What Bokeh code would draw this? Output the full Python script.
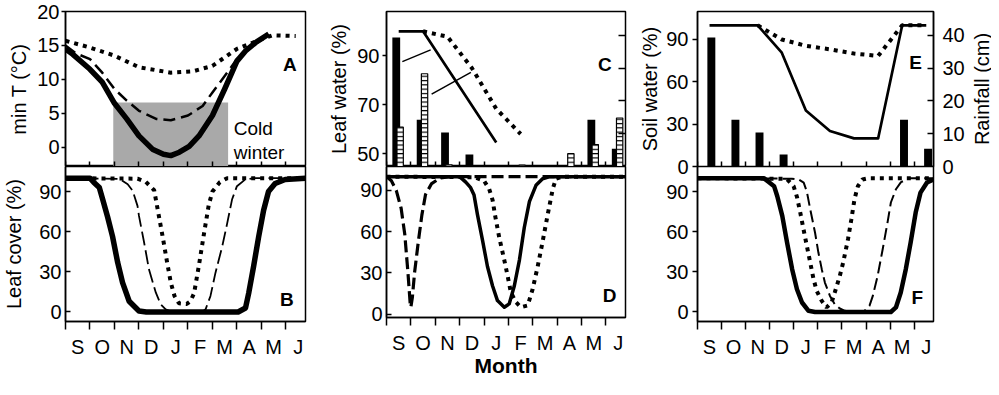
import math
from bokeh.plotting import figure
from bokeh.models import Range1d, LinearAxis, FixedTicker, Label
from bokeh.layouts import row, column
from bokeh.embed import file_html
from bokeh.resources import INLINE

# ---------------- data (x = months since 1 September) ----------------
month_labels = ["S", "O", "N", "D", "J", "F", "M", "A", "M", "J"]
month_index = list(range(10))

# Panel A: minimum temperature (°C)
a_solid_x = [0, 0.3, 1.0, 1.5, 2.0, 2.5, 3.0, 3.55, 4.0, 4.3, 4.65, 5.05, 5.45, 6.0, 6.5, 7.0, 7.35, 7.75, 8.3]
a_solid_y = [14.5, 13.7, 11.5, 9.6, 6.5, 4.2, 1.7, -0.25, -1.0, -1.2, -0.7, 0.15, 1.7, 4.7, 8.6, 12.7, 14.2, 15.4, 16.7]
a_dash_x = [0, 0.45, 1.0, 1.5, 2.0, 2.5, 3.0, 3.7, 4.3, 5.0, 5.6, 6.0, 6.5, 7.0, 7.5, 8.0, 8.3]
a_dash_y = [15.0, 13.8, 13.0, 11.0, 8.6, 6.9, 5.4, 4.2, 4.0, 4.7, 6.1, 8.1, 10.5, 13.0, 14.5, 15.9, 16.7]
a_dot_x = [0, 1.0, 2.0, 3.0, 4.3, 5.2, 6.0, 7.0, 8.0, 8.45, 9.4]
a_dot_y = [15.7, 14.7, 13.5, 11.8, 11.0, 11.2, 12.0, 14.5, 15.9, 16.5, 16.4]
cold_start, cold_end, cold_top = 1.95, 6.64, 6.6

# Panel B: leaf cover (%)
b_solid_x = [0, 1.0, 1.15, 1.38, 1.52, 1.72, 1.92, 2.13, 2.33, 2.6, 3.0, 3.3, 7.05, 7.35, 7.48, 7.68, 7.89, 8.09, 8.29, 8.56, 8.97, 9.8]
b_solid_y = [100, 100, 97, 93, 84, 71, 56.5, 37, 22, 8, 0.7, 0, 0, 3, 14, 34, 56.5, 76, 90, 96, 99, 100]
b_dash_x = [0, 2.2, 2.54, 2.74, 2.94, 3.0, 3.21, 3.41, 3.69, 3.89, 4.09, 4.36, 5.58, 5.72, 5.92, 6.12, 6.4, 6.6, 6.8, 7.0, 7.34, 7.7, 9.8]
b_dash_y = [100, 99.5, 95.4, 90.7, 79.3, 71.8, 51.9, 31.7, 14.4, 5.7, 2, 0, 0, 2, 12, 29, 49, 66, 84, 94, 99, 100, 100]
b_dot_x = [0, 2.94, 3.28, 3.62, 3.8, 3.98, 4.15, 4.3, 4.45, 4.63, 4.95, 5.1, 5.25, 5.45, 5.65, 5.85, 6.0, 6.3, 6.6, 9.8]
b_dot_y = [100, 99.6, 97.2, 91, 73, 55, 37, 22, 12, 6.5, 6, 8, 14, 35, 58, 80, 90, 97, 100, 100]

# Panel C: leaf water (%) and rainfall (cm)
c_solid_x = [0.5, 1.5, 4.5]
c_solid_y = [100, 100, 54.5]
c_dot_x = [1.5, 2.5, 3.5, 4.5, 5.5]
c_dot_y = [100, 97.8, 85, 68.3, 58]
rain_site1 = [39.4, 14.3, 10.4, 3.7, 0, 0, 0, 0, 14.3, 5.4]
rain_site2 = [12.0, 28.3, 0.5, 0, 0, 0.4, 0, 3.9, 6.7, 14.8]
leader_x0 = [0.65, 1.85]
leader_y0 = [87.6, 74.3]
leader_x1 = [1.81, 3.46]
leader_y1 = [92.4, 83.2]

# Panel D: leaf cover (%)
d_dash_x = [0, 0.2, 0.4, 0.6, 0.75, 0.88, 0.97, 1.0, 1.06, 1.15, 1.3, 1.45, 1.6, 1.85, 2.2, 2.6, 9.8]
d_dash_y = [100, 97, 90, 77, 58, 30, 8, 5, 12, 30, 52, 72, 87, 95, 99, 100, 100]
d_solid_x = [0, 3.0, 3.25, 3.45, 3.59, 3.73, 3.94, 4.14, 4.35, 4.55, 4.83, 5.03, 5.24, 5.45, 5.65, 5.86, 6.13, 6.4, 6.7, 9.8]
d_solid_y = [100, 100, 96, 92, 86.6, 72.4, 53.5, 34.6, 20.4, 9.8, 5, 7.4, 20.4, 39.3, 63, 81.8, 93.7, 98.5, 100, 100]
d_dot_x = [0, 3.6, 4.0, 4.21, 4.35, 4.45, 4.62, 4.83, 4.97, 5.1, 5.31, 5.51, 5.79, 5.99, 6.2, 6.41, 6.61, 6.82, 6.95, 7.2, 9.8]
d_dot_y = [100, 99.6, 97, 91, 83, 72, 56, 39.3, 27.5, 15.7, 8.6, 5, 6.3, 18, 34.6, 53.5, 72.4, 91.3, 98.5, 100, 100]

# Panel E: soil water (%)
e_solid_x = [0.5, 1.5, 2.5, 3.5, 4.5, 5.5, 6.5, 7.5, 8.5, 9.5]
e_solid_y = [100, 100, 100, 80.6, 39.7, 25.1, 19.9, 19.9, 100, 100]
e_dot_x = [2.5, 3.5, 4.5, 5.5, 6.5, 7.5, 8.5, 9.5]
e_dot_y = [100, 90, 85.5, 83, 80, 78.3, 100, 100]

# Panel F: leaf cover (%)
f_solid_x = [0, 2.75, 2.97, 3.18, 3.31, 3.52, 3.72, 3.93, 4.13, 4.34, 4.61, 4.88, 8.03, 8.24, 8.44, 8.65, 8.85, 9.06, 9.26, 9.53, 9.8]
f_solid_y = [100, 100, 97, 94, 86.7, 71.8, 51.9, 32, 17, 7.1, 0.9, 0, 0, 3.4, 14.6, 32, 51.9, 74.3, 89.2, 96.7, 99]
f_dot_x = [0, 3.7, 3.99, 4.13, 4.27, 4.4, 4.54, 4.68, 4.82, 4.95, 5.16, 5.36, 5.57, 5.7, 5.91, 6.05, 6.25, 6.39, 6.52, 6.66, 6.85, 7.1, 9.8]
f_dot_y = [100, 99.5, 94, 86, 74, 62, 49.4, 37, 24.5, 15.8, 8.3, 3.4, 7.1, 14.6, 27, 37, 54.4, 69.3, 84.3, 94, 99, 100, 100]
f_dash_x = [0, 3.92, 4.2, 4.41, 4.54, 4.68, 4.88, 5.02, 5.16, 5.29, 5.5, 5.7, 5.91, 6.12, 6.39, 6.94, 7.14, 7.28, 7.48, 7.69, 7.89, 8.03, 8.24, 8.45, 8.8, 9.8]
f_dash_y = [100, 99.6, 99, 96.7, 90, 76.8, 59.4, 44.4, 32, 22, 12, 5.8, 2.6, 0.9, 0, 0.9, 4.6, 12, 27, 46.9, 66.8, 81.8, 91.7, 97, 100, 100]

# ---------------- styling helpers ----------------
FONT = "Liberation Sans"
TICK_FS = "20px"
LABEL_FS = "20px"
X_END = 9.8
TOP_H, BOT_H = 166, 213
OVER = 12  # extra canvas below the soil-water panel so its "0" labels are not cut


def base_fig(w, h, bl, br, bt, bb, y0, y1):
    p = figure(width=w, height=h, x_range=Range1d(0, X_END), y_range=Range1d(y0, y1),
               x_axis_location=None, y_axis_location=None,
               output_backend="svg", toolbar_location=None,
               min_border_left=bl, min_border_right=br,
               min_border_top=bt, min_border_bottom=bb)
    p.grid.visible = False
    p.outline_line_color = "black"
    p.outline_line_width = 1.5
    p.outline_line_alpha = 1.0
    return p


def left_axis(p, ticks, label, tin, tout, standoff, lab_standoff):
    ax = LinearAxis(ticker=FixedTicker(ticks=ticks), axis_label=label,
                    major_tick_in=tin, major_tick_out=tout,
                    major_tick_line_width=1.5, axis_line_width=1.5,
                    minor_tick_line_color=None,
                    major_label_standoff=standoff, axis_label_standoff=lab_standoff,
                    major_label_text_font=FONT, major_label_text_font_size=TICK_FS,
                    major_label_text_color="black",
                    axis_label_text_font=FONT, axis_label_text_font_size=LABEL_FS,
                    axis_label_text_font_style="normal", axis_label_text_color="black")
    p.add_layout(ax, "left")


def inner_bottom(p, y0):
    ax = LinearAxis(fixed_location=y0, ticker=FixedTicker(ticks=month_index),
                    major_tick_in=5, major_tick_out=0, major_tick_line_width=1.5,
                    minor_tick_line_color=None, axis_line_color=None,
                    major_label_text_color=None)
    p.add_layout(ax, "below")


def month_axis(p, label=None):
    mids = [m + 0.5 for m in month_index]
    ax = LinearAxis(ticker=FixedTicker(ticks=mids, minor_ticks=month_index),
                    major_label_overrides={t: s for t, s in zip(mids, month_labels)},
                    major_tick_line_color=None, major_tick_out=8, major_tick_in=0,
                    minor_tick_line_color="black", minor_tick_line_width=1.5,
                    minor_tick_out=8, minor_tick_in=0,
                    axis_line_width=1.5, major_label_standoff=6,
                    major_label_text_font=FONT, major_label_text_font_size=TICK_FS,
                    major_label_text_color="black",
                    axis_label=label, axis_label_standoff=-3,
                    axis_label_text_font=FONT, axis_label_text_font_size="21px",
                    axis_label_text_font_style="bold", axis_label_text_color="black")
    p.add_layout(ax, "below")


def panel_letter(p, x, y, t):
    p.add_layout(Label(x=x, y=y, text=t, text_font=FONT, text_font_size="19px",
                       text_font_style="bold", text_align="center",
                       text_baseline="middle", text_color="black"))


SOLID = dict(line_color="black", line_join="round")
DOT = dict(line_color="black", line_width=4, line_dash="4 5")

# ---------------- Panel A ----------------
pA = base_fig(322, TOP_H, 65, 17, 11, 0, -2.8, 20)
left_axis(pA, [0, 5, 10, 15, 20], "min T (°C)", 0, 4, 2, 4)
inner_bottom(pA, -2.8)
pA.quad(left=[cold_start], right=[cold_end], bottom=[-2.8], top=[cold_top],
        fill_color="#a9a9a9", line_color=None)
pA.line(a_dot_x, a_dot_y, **DOT)
pA.line(a_dash_x, a_dash_y, line_width=2.5, line_dash="12 6", **SOLID)
pA.line(a_solid_x, a_solid_y, line_width=5.5, **SOLID)
pA.add_layout(Label(x=6.87, y=2.8, text="Cold", text_font=FONT, text_font_size="19px",
                    text_baseline="middle", text_align="left", text_color="black"))
pA.add_layout(Label(x=6.87, y=-0.75, text="winter", text_font=FONT, text_font_size="19px",
                    text_baseline="middle", text_align="left", text_color="black"))
panel_letter(pA, 9.16, 12.25, "A")

# ---------------- Panel B ----------------
pB = base_fig(322, BOT_H, 65, 17, 0, 58, -7.1, 108.7)
left_axis(pB, [0, 30, 60, 90], "Leaf cover (%)", 5, 0, 4, 11)
month_axis(pB)
pB.line(b_dot_x, b_dot_y, **DOT)
pB.line(b_dash_x, b_dash_y, line_width=1.8, line_dash="14 5", **SOLID)
pB.line(b_solid_x, b_solid_y, line_width=5.5, **SOLID)
panel_letter(pB, 9.04, 9.6, "B")

# ---------------- Panel C ----------------
pC = base_fig(314, TOP_H, 64, 11, 11, 0, 44.7, 108.1)
pC.extra_y_ranges = {"rain": Range1d(0, 47.3)}
left_axis(pC, [50, 70, 90], "Leaf water (%)", 0, 4, 3, 4)
inner_bottom(pC, 44.7)
pC.add_layout(LinearAxis(y_range_name="rain", fixed_location=X_END,
                         ticker=FixedTicker(ticks=[10, 20, 30, 40]),
                         major_tick_in=7, major_tick_out=0, major_tick_line_width=1.5,
                         minor_tick_line_color=None, axis_line_color=None,
                         major_label_text_color=None), "right")
pC.vbar(x=[m + 0.40 for m in month_index], width=0.32, top=rain_site1, bottom=0,
        y_range_name="rain", fill_color="black", line_color=None)
pC.vbar(x=[m + 0.56 for m in month_index], width=0.26, top=rain_site2, bottom=0,
        y_range_name="rain", fill_color="white", line_color="black", line_width=1.2,
        hatch_pattern="horizontal_line", hatch_color="black", hatch_scale=4.3,
        hatch_weight=1.2)
pC.segment(x0=leader_x0, y0=leader_y0, x1=leader_x1, y1=leader_y1,
           line_color="black", line_width=1.5)
pC.line(c_dot_x, c_dot_y, **DOT)
pC.line(c_solid_x, c_solid_y, line_width=2.7, **SOLID)
panel_letter(pC, 8.95, 86.6, "C")

# ---------------- Panel D ----------------
pD = base_fig(314, BOT_H, 64, 11, 0, 58, -2.5, 107.4)
left_axis(pD, [0, 30, 60, 90], None, 5, 0, 4, 10)
month_axis(pD, "Month")
pD.line(d_dot_x, d_dot_y, **DOT)
pD.line(d_dash_x, d_dash_y, line_width=3.2, line_dash="12 5", **SOLID)
pD.line(d_solid_x, d_solid_y, line_width=3.5, **SOLID)
panel_letter(pD, 9.15, 13.3, "D")

# ---------------- Panel E ----------------
E_W = 331
pE = base_fig(E_W, TOP_H + OVER, 60, 33, 11, OVER, 0, 109.8)
pE.extra_y_ranges = {"rain": Range1d(0, 47.3)}
left_axis(pE, [0, 30, 60, 90], "Soil water (%)", 0, 5, 4, 2)
inner_bottom(pE, 0)
pE.add_layout(LinearAxis(y_range_name="rain", ticker=FixedTicker(ticks=[0, 10, 20, 30, 40]),
                         major_tick_in=6, major_tick_out=0, major_tick_line_width=1.5,
                         minor_tick_line_color=None, axis_line_width=1.5,
                         major_label_standoff=9,
                         major_label_text_font=FONT, major_label_text_font_size=TICK_FS,
                         major_label_text_color="black"),
              "right")
pE.vbar(x=[m + 0.575 for m in month_index], width=0.33, top=rain_site1, bottom=0,
        y_range_name="rain", fill_color="black", line_color=None)
pE.line(e_dot_x, e_dot_y, **DOT)
pE.line(e_solid_x, e_solid_y, line_width=2.7, **SOLID)
panel_letter(pE, 9.06, 73.5, "E")

# narrow strip carrying the rainfall axis title (reads bottom-to-top)
pR = figure(width=24, height=TOP_H, x_range=Range1d(0, 1), y_range=Range1d(0, 1),
            x_axis_location=None, y_axis_location=None,
            output_backend="svg", toolbar_location=None,
            min_border_left=23, min_border_right=0, min_border_top=11, min_border_bottom=0)
pR.grid.visible = False
pR.outline_line_color = None
pR.add_layout(LinearAxis(ticker=FixedTicker(ticks=[]), axis_label="Rainfall (cm)",
                         axis_line_color=None, major_tick_out=0, major_tick_in=0,
                         minor_tick_line_color=None, major_label_text_color=None,
                         axis_label_standoff=-2,
                         axis_label_text_font=FONT, axis_label_text_font_size=LABEL_FS,
                         axis_label_text_font_style="normal", axis_label_text_color="black"),
              "left")

# ---------------- Panel F ----------------
pF = base_fig(E_W, BOT_H, 60, 33, 0, 58, -7.1, 108.7)
pF.border_fill_color = None
pF.margin = (-OVER, 0, 0, 0)
left_axis(pF, [0, 30, 60, 90], None, 0, 5, 4, 10)
month_axis(pF)
pF.line(f_dot_x, f_dot_y, **DOT)
pF.line(f_dash_x, f_dash_y, line_width=2.0, line_dash="12 5", **SOLID)
pF.line(f_solid_x, f_solid_y, line_width=4.5, **SOLID)
panel_letter(pF, 9.13, 10.8, "F")

layout = row(column(pA, pB), column(pC, pD), column(pE, pF), pR)

open("out.html", "w").write(file_html(layout, INLINE))
